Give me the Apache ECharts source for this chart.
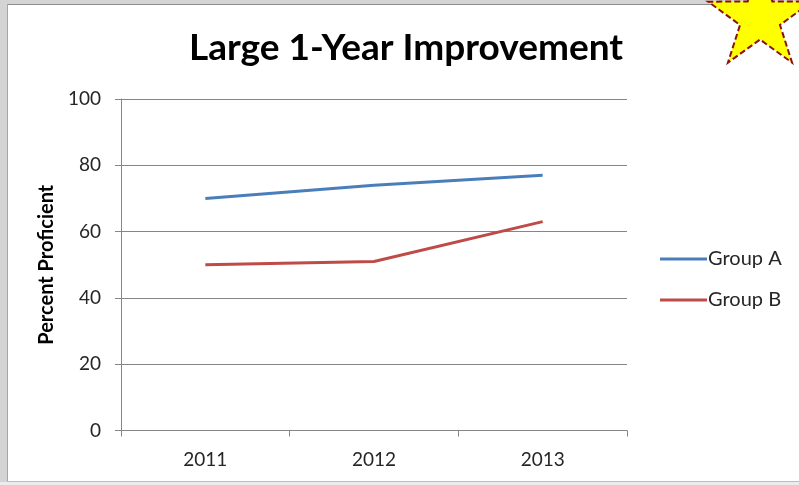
<!DOCTYPE html>
<html>
<head>
<meta charset="utf-8">
<title>Large 1-Year Improvement</title>
<script src="https://cdn.jsdelivr.net/npm/echarts@6/dist/echarts.min.js"></script>
<style>
  html, body { margin: 0; padding: 0; background: #ffffff; }
  #chart { width: 799px; height: 485px; }
</style>
</head>
<body>
<div id="chart"></div>
<script>
// Years on the category axis
const years = ['2011', '2012', '2013'];

// Percent proficient per group
const groupA = [70, 74, 77];
const groupB = [50, 51, 63];

// Value axis range and step
const yMin = 0;
const yMax = 100;
const yStep = 20;

const seriesNames = ['Group A', 'Group B'];
const seriesColors = ['#4a7ebb', '#be4b48'];

const labelFont = 'Lato, "Open Sans", sans-serif';
const labelColor = '#262626';

// Five-pointed star badge in the corner (decoration)
function starPoints(cx, cy, rOuter, rInner) {
  const pts = [];
  for (let i = 0; i < 10; i++) {
    const r = i % 2 === 0 ? rOuter : rInner;
    const a = -Math.PI / 2 + i * Math.PI / 5;
    pts.push([cx + r * Math.cos(a), cy + r * Math.sin(a)]);
  }
  return pts;
}

const chart = echarts.init(document.getElementById('chart'), null, { renderer: 'canvas' });

chart.setOption({
  backgroundColor: '#ffffff',
  animation: false,
  title: {
    text: 'Large 1-Year Improvement',
    left: 401,
    textAlign: 'center',
    top: 25,
    textStyle: {
      fontFamily: labelFont,
      fontWeight: 'bold',
      fontSize: 37,
      color: '#000000'
    }
  },
  grid: {
    left: 121,
    right: 172,
    top: 99,
    bottom: 54.5,
    containLabel: false
  },
  legend: {
    orient: 'vertical',
    left: 660,
    top: 249,
    padding: 0,
    icon: 'rect',
    itemWidth: 47,
    itemHeight: 3,
    itemGap: 21,
    data: seriesNames,
    textStyle: {
      fontFamily: labelFont,
      fontSize: 20,
      color: labelColor,
      padding: [0, 0, 0, -4]
    }
  },
  xAxis: {
    type: 'category',
    data: years,
    boundaryGap: true,
    axisLine: { lineStyle: { color: '#868686', width: 1 } },
    axisTick: { show: true, length: 6, lineStyle: { color: '#868686' } },
    axisLabel: {
      fontFamily: labelFont,
      fontSize: 19,
      color: labelColor,
      margin: 20
    },
    splitLine: { show: false }
  },
  yAxis: {
    type: 'value',
    min: yMin,
    max: yMax,
    interval: yStep,
    name: 'Percent Proficient',
    nameLocation: 'middle',
    nameGap: 61,
    nameTextStyle: {
      fontFamily: labelFont,
      fontWeight: 'bold',
      fontSize: 20,
      color: '#000000'
    },
    axisLine: { show: true, lineStyle: { color: '#868686', width: 1 } },
    axisTick: { show: true, inside: false, length: 6, lineStyle: { color: '#868686' } },
    axisLabel: {
      fontFamily: labelFont,
      fontSize: 19,
      color: labelColor,
      margin: 20
    },
    splitLine: { show: true, lineStyle: { color: '#868686', width: 1 } }
  },
  series: [
    {
      name: seriesNames[0],
      type: 'line',
      data: groupA,
      symbol: 'none',
      color: seriesColors[0],
      lineStyle: { width: 3, color: seriesColors[0] }
    },
    {
      name: seriesNames[1],
      type: 'line',
      data: groupB,
      symbol: 'none',
      color: seriesColors[1],
      lineStyle: { width: 3, color: seriesColors[1] }
    }
  ],
  graphic: [
    // window frame: top strip, left strip and bottom edge
    { type: 'rect', shape: { x: 0, y: 0, width: 799, height: 4 }, style: { fill: '#d4d4d4' }, z: 100 },
    { type: 'rect', shape: { x: 0, y: 0, width: 7, height: 485 }, style: { fill: '#d4d4d4' }, z: 100 },
    { type: 'line', shape: { x1: 7, y1: 4.5, x2: 799, y2: 4.5 }, style: { stroke: '#8c8c8c', lineWidth: 1 }, z: 101 },
    { type: 'line', shape: { x1: 7.5, y1: 4, x2: 7.5, y2: 482 }, style: { stroke: '#a6a6a6', lineWidth: 1 }, z: 101 },
    { type: 'rect', shape: { x: 0, y: 482, width: 799, height: 3 }, style: { fill: '#ececec' }, z: 100 },
    { type: 'line', shape: { x1: 7, y1: 481.5, x2: 799, y2: 481.5 }, style: { stroke: '#bdbdbd', lineWidth: 1 }, z: 101 },
    // corner star
    {
      type: 'polygon',
      shape: { points: starPoints(760, 18.5, 54.5, 21) },
      style: {
        fill: '#ffff00',
        stroke: '#8b1010',
        lineWidth: 2,
        lineDash: [6, 3]
      },
      z: 102
    }
  ]
});
</script>
</body>
</html>
